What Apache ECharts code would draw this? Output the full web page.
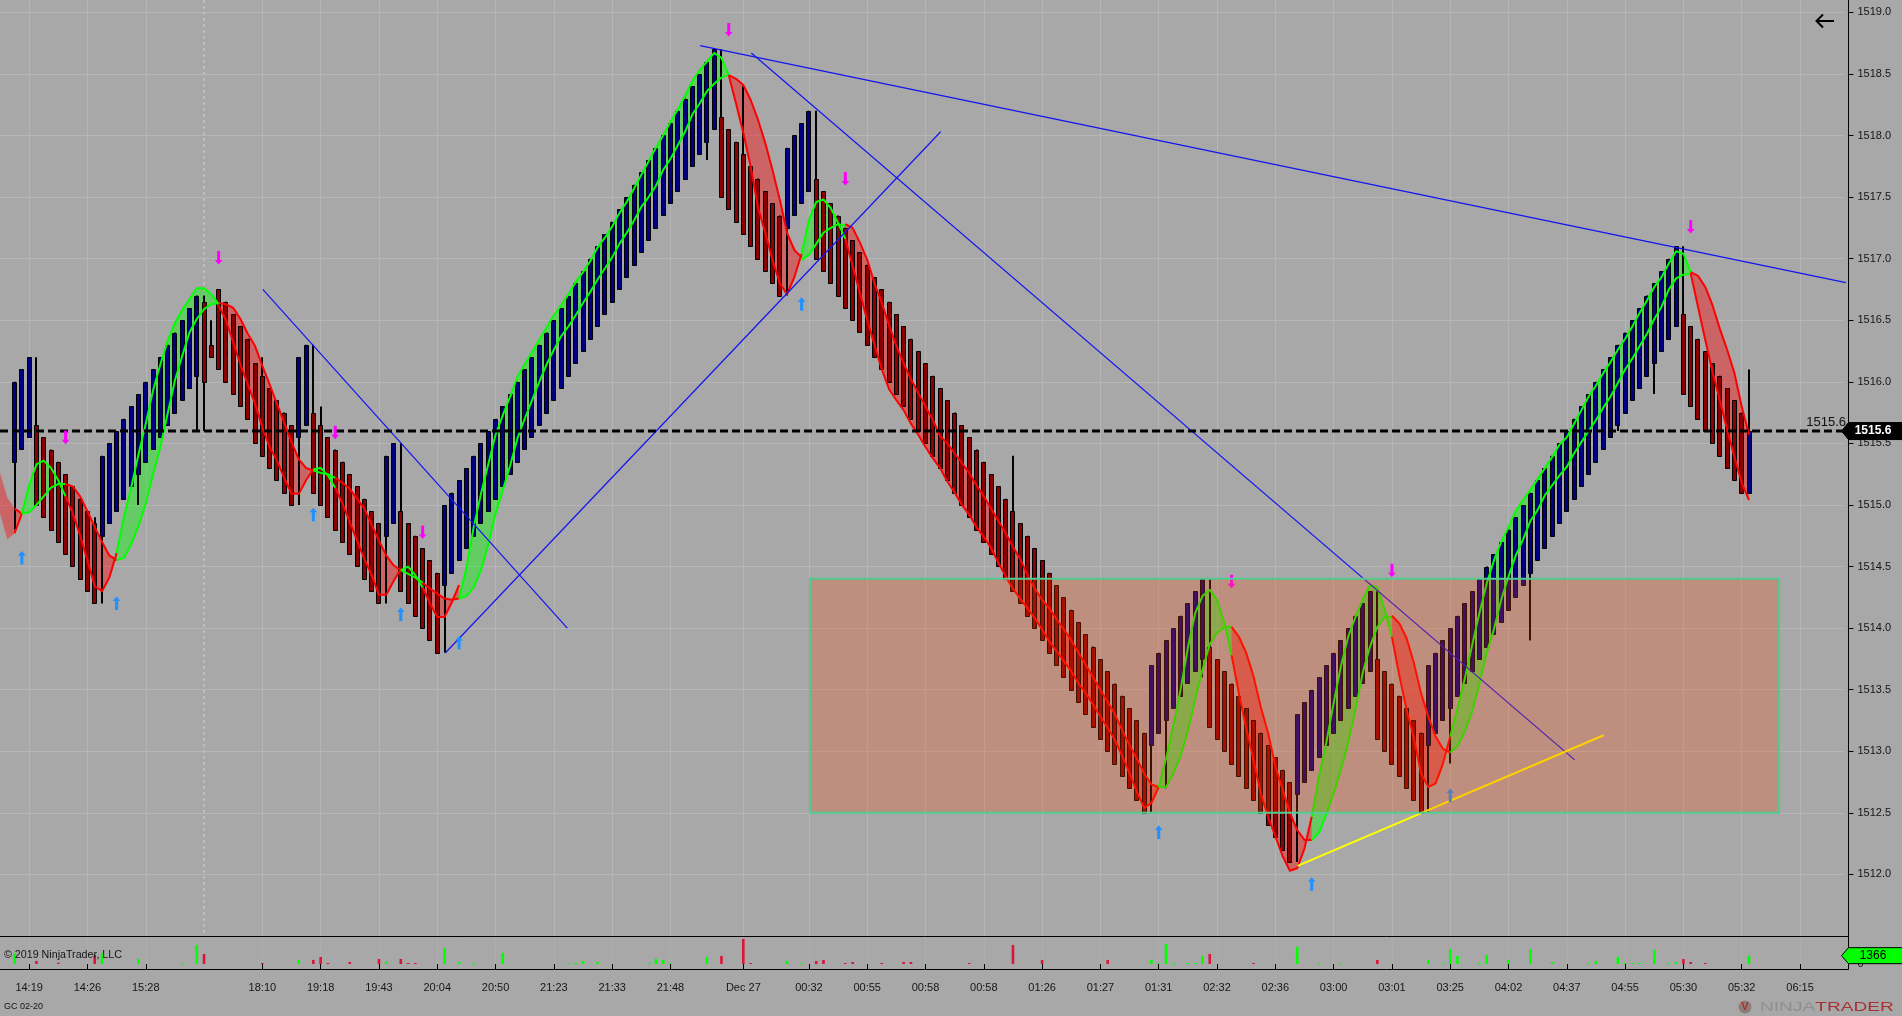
<!DOCTYPE html>
<html><head><meta charset="utf-8"><title>GC 02-20</title>
<style>html,body{margin:0;padding:0;background:#a8a8a8;overflow:hidden}#c{width:1902px;height:1016px}</style>
<script src="https://cdn.jsdelivr.net/npm/echarts@6/dist/echarts.min.js"></script></head>
<body><div id="c"></div>
<script>
const FIRST_INDEX = -4, LAST_INDEX = 249, FIRST_BAR = -2;
const tickIndex = [0,8,16,32,40,48,56,64,72,80,88,98,107,115,123,131,139,147,155,163,171,179,187,195,203,211,219,227,235,243];
const tickLabels = ['14:19','14:26','15:28','18:10','19:18','19:43','20:04','20:50','21:23','21:33','21:48','Dec 27','00:32','00:55','00:58','00:58','01:26','01:27','01:31','02:32','02:36','03:00','03:01','03:25','04:02','04:37','04:55','05:30','05:32','06:15'];
const priceTicks = [1512,1512.5,1513,1513.5,1514,1514.5,1515,1515.5,1516,1516.5,1517,1517.5,1518,1518.5,1519];
const barOpen = [1515.35,1515.45,1515.55,
1515.65,1515.55,1515.45,1515.35,1515.25,1515.15,1515.05,1514.95,1514.85,
1514.75,1514.85,1514.95,1515.05,1515.15,1515.25,1515.35,1515.45,1515.55,1515.65,1515.75,1515.85,1515.95,1516.05,
1516.65,1516.3,
1516.75,1516.65,1516.55,1516.45,1516.35,
1516.15,1516.05,1515.95,1515.85,1515.75,1515.65,
1515.55,1515.65,
1515.75,1515.65,1515.55,1515.45,1515.35,1515.25,1515.15,1515.05,1514.95,1514.85,
1514.75,1514.85,
1514.95,1514.85,1514.75,1514.65,1514.55,1514.45,
1514.35,1514.45,1514.55,1514.65,1514.75,1514.85,1514.95,1515.05,1515.15,1515.25,1515.35,1515.45,1515.55,1515.65,1515.75,1515.85,1515.95,1516.05,1516.15,1516.25,1516.35,1516.45,1516.55,1516.65,1516.75,1516.85,1516.95,1517.05,1517.15,1517.25,1517.35,1517.45,1517.55,1517.65,1517.75,1517.85,1517.95,1518.05,
1518.15,1518.05,1517.95,1517.85,1517.75,1517.65,1517.55,1517.45,1517.35,
1517.25,1517.35,1517.45,1517.55,
1517.65,1517.55,1517.45,1517.35,1517.25,1517.15,1517.05,1516.95,1516.85,1516.75,1516.65,1516.55,1516.45,1516.35,1516.25,1516.15,1516.05,1515.95,1515.85,1515.75,1515.65,1515.55,1515.45,1515.35,1515.25,1515.15,1515.05,1514.95,1514.85,1514.75,1514.65,1514.55,1514.45,1514.35,1514.25,1514.15,1514.05,1513.95,1513.85,1513.75,1513.65,1513.55,1513.45,1513.35,1513.25,1513.15,
1513.05,1513.15,1513.25,1513.35,1513.45,1513.55,1513.65,1513.75,
1513.85,1513.75,1513.65,1513.55,1513.45,1513.35,1513.25,1513.15,1513.05,1512.95,1512.85,1512.75,
1512.65,1512.75,1512.85,1512.95,1513.05,1513.15,1513.25,1513.35,1513.45,1513.55,1513.65,
1513.75,1513.65,1513.55,1513.45,1513.35,1513.25,1513.15,
1513.05,1513.15,1513.25,1513.35,1513.45,1513.55,1513.65,1513.75,1513.85,1513.95,1514.05,1514.15,1514.25,1514.35,1514.45,1514.55,1514.65,1514.75,1514.85,1514.95,1515.05,1515.15,1515.25,1515.35,1515.45,1515.55,1515.65,1515.75,1515.85,1515.95,1516.05,1516.15,1516.25,1516.35,1516.45,
1516.55,1516.45,1516.35,1516.25,1516.15,1516.05,1515.95,1515.85,1515.75,
1515.1];
const barClose = [1516.0,1516.1,1516.2,
1515.0,1514.9,1514.8,1514.7,1514.6,1514.5,1514.4,1514.3,1514.2,
1515.4,1515.5,1515.6,1515.7,1515.8,1515.9,1516.0,1516.1,1516.2,1516.3,1516.4,1516.5,1516.6,1516.7,
1516.0,1516.2,
1516.1,1516.0,1515.9,1515.8,1515.7,
1515.5,1515.4,1515.3,1515.2,1515.1,1515.0,
1516.2,1516.3,
1515.1,1515.0,1514.9,1514.8,1514.7,1514.6,1514.5,1514.4,1514.3,1514.2,
1515.4,1515.5,
1514.3,1514.2,1514.1,1514.0,1513.9,1513.8,
1515.0,1515.1,1515.2,1515.3,1515.4,1515.5,1515.6,1515.7,1515.8,1515.9,1516.0,1516.1,1516.2,1516.3,1516.4,1516.5,1516.6,1516.7,1516.8,1516.9,1517.0,1517.1,1517.2,1517.3,1517.4,1517.5,1517.6,1517.7,1517.8,1517.9,1518.0,1518.1,1518.2,1518.3,1518.4,1518.5,1518.6,1518.7,
1517.5,1517.4,1517.3,1517.2,1517.1,1517.0,1516.9,1516.8,1516.7,
1517.9,1518.0,1518.1,1518.2,
1517.0,1516.9,1516.8,1516.7,1516.6,1516.5,1516.4,1516.3,1516.2,1516.1,1516.0,1515.9,1515.8,1515.7,1515.6,1515.5,1515.4,1515.3,1515.2,1515.1,1515.0,1514.9,1514.8,1514.7,1514.6,1514.5,1514.4,1514.3,1514.2,1514.1,1514.0,1513.9,1513.8,1513.7,1513.6,1513.5,1513.4,1513.3,1513.2,1513.1,1513.0,1512.9,1512.8,1512.7,1512.6,1512.5,
1513.7,1513.8,1513.9,1514.0,1514.1,1514.2,1514.3,1514.4,
1513.2,1513.1,1513.0,1512.9,1512.8,1512.7,1512.6,1512.5,1512.4,1512.3,1512.2,1512.1,
1513.3,1513.4,1513.5,1513.6,1513.7,1513.8,1513.9,1514.0,1514.1,1514.2,1514.3,
1513.1,1513.0,1512.9,1512.8,1512.7,1512.6,1512.5,
1513.7,1513.8,1513.9,1514.0,1514.1,1514.2,1514.3,1514.4,1514.5,1514.6,1514.7,1514.8,1514.9,1515.0,1515.1,1515.2,1515.3,1515.4,1515.5,1515.6,1515.7,1515.8,1515.9,1516.0,1516.1,1516.2,1516.3,1516.4,1516.5,1516.6,1516.7,1516.8,1516.9,1517.0,1517.1,
1515.9,1515.8,1515.7,1515.6,1515.5,1515.4,1515.3,1515.2,1515.1,
1515.6];
const wickHighIndex = [1,9,24,25,32,39,40,51,95,98,108,135,162,185,227,236];
const wickHighPrice = [1516.2,1514.9,1516.7,1516.5,1516.2,1516.3,1515.8,1515.5,1518.7,1518.4,1518.2,1515.4,1514.4,1514.3,1517.1,1516.1];
const wickLowIndex = [-2,10,15,23,24,37,49,57,93,104,154,156,161,174,192,195,206,218,223];
const wickLowPrice = [1514.8,1514.2,1515.0,1515.6,1515.6,1515.0,1514.2,1513.8,1517.8,1516.7,1512.5,1512.7,1513.6,1512.1,1512.5,1512.9,1513.9,1515.6,1515.9];
const bandStart = [-4,-1,5,12,26,39,42,51,54,59,96,106,112,155,165,176,187,195,228];
const bandRising = [0,1,0,1,0,1,0,1,0,1,0,1,0,1,0,1,0,1,0];
const bandFast = [
[1515.26,1515.06,1514.97,1514.93],
[1514.93,1515.16,1515.33,1515.36,1515.30,1515.20,1515.07],
[1515.07,1514.93,1514.75,1514.55,1514.34,1514.30,1514.41,1514.61],
[1514.61,1514.90,1515.14,1515.41,1515.66,1515.93,1516.14,1516.33,1516.48,1516.58,1516.67,1516.76,1516.76,1516.71,1516.63],
[1516.62,1516.50,1516.32,1516.14,1515.98,1515.82,1515.63,1515.47,1515.36,1515.22,1515.09,1515.09,1515.20,1515.29],
[1515.29,1515.30,1515.24,1515.14],
[1515.14,1515.01,1514.86,1514.71,1514.56,1514.43,1514.27,1514.27,1514.38,1514.48],
[1514.47,1514.50,1514.43,1514.33],
[1514.33,1514.20,1514.09,1514.09,1514.21,1514.35],
[1514.24,1514.49,1514.82,1515.09,1515.33,1515.57,1515.73,1515.88,1516.04,1516.14,1516.24,1516.34,1516.44,1516.54,1516.62,1516.71,1516.81,1516.89,1516.98,1517.09,1517.17,1517.26,1517.37,1517.46,1517.57,1517.68,1517.79,1517.90,1518.00,1518.11,1518.21,1518.32,1518.44,1518.53,1518.60,1518.67,1518.63,1518.49],
[1518.49,1518.26,1518.02,1517.75,1517.42,1517.21,1516.99,1516.80,1516.71,1516.85,1517.04],
[1517.04,1517.31,1517.46,1517.48,1517.41,1517.29,1517.16],
[1517.16,1516.94,1516.72,1516.50,1516.30,1516.10,1515.94,1515.85,1515.77,1515.66,1515.57,1515.47,1515.38,1515.30,1515.19,1515.10,1515.00,1514.92,1514.82,1514.74,1514.65,1514.53,1514.42,1514.32,1514.24,1514.16,1514.08,1513.99,1513.89,1513.81,1513.73,1513.65,1513.55,1513.47,1513.38,1513.28,1513.19,1513.09,1512.96,1512.82,1512.67,1512.54,1512.58,1512.71],
[1512.71,1512.94,1513.21,1513.50,1513.84,1514.12,1514.26,1514.31,1514.23,1514.04,1513.78],
[1513.78,1513.47,1513.19,1512.93,1512.66,1512.47,1512.31,1512.15,1512.03,1512.05,1512.21,1512.47],
[1512.47,1512.80,1513.07,1513.39,1513.69,1513.93,1514.09,1514.23,1514.35,1514.33,1514.15,1513.93],
[1513.93,1513.62,1513.34,1513.11,1512.82,1512.71,1512.74,1512.90,1513.12],
[1513.12,1513.35,1513.59,1513.86,1514.12,1514.36,1514.55,1514.70,1514.82,1514.95,1515.04,1515.12,1515.21,1515.30,1515.39,1515.49,1515.55,1515.66,1515.77,1515.88,1515.97,1516.07,1516.16,1516.26,1516.35,1516.45,1516.56,1516.66,1516.77,1516.85,1516.96,1517.06,1517.04,1516.89],
[1516.88,1516.61,1516.34,1516.08,1515.85,1515.61,1515.39,1515.18,1515.04]];
const bandSlow = [
[1514.93,1514.72,1514.77,1514.93],
[1514.93,1514.94,1515.00,1515.07,1515.14,1515.17,1515.17],
[1515.17,1515.15,1515.07,1514.95,1514.82,1514.70,1514.59,1514.55],
[1514.55,1514.57,1514.68,1514.83,1515.01,1515.25,1515.47,1515.74,1516.01,1516.21,1516.40,1516.51,1516.59,1516.63,1516.64],
[1516.64,1516.63,1516.60,1516.51,1516.39,1516.29,1516.13,1515.98,1515.82,1515.67,1515.51,1515.37,1515.30,1515.28],
[1515.28,1515.26,1515.25,1515.22],
[1515.22,1515.18,1515.13,1515.05,1514.97,1514.84,1514.71,1514.59,1514.51,1514.47],
[1514.47,1514.44,1514.41,1514.37],
[1514.37,1514.32,1514.28,1514.24,1514.23,1514.24],
[1514.24,1514.26,1514.33,1514.47,1514.68,1514.93,1515.12,1515.32,1515.54,1515.70,1515.85,1516.00,1516.14,1516.26,1516.37,1516.45,1516.54,1516.64,1516.73,1516.83,1516.92,1517.01,1517.12,1517.21,1517.31,1517.42,1517.50,1517.59,1517.72,1517.81,1517.92,1518.03,1518.17,1518.26,1518.36,1518.42,1518.47,1518.49],
[1518.49,1518.46,1518.41,1518.29,1518.13,1517.94,1517.72,1517.48,1517.21,1517.07,1517.01],
[1516.99,1517.03,1517.12,1517.21,1517.25,1517.28,1517.27],
[1517.28,1517.25,1517.13,1516.99,1516.80,1516.64,1516.46,1516.29,1516.15,1516.02,1515.91,1515.80,1515.69,1515.56,1515.50,1515.42,1515.34,1515.26,1515.16,1515.07,1514.97,1514.87,1514.77,1514.66,1514.56,1514.43,1514.32,1514.23,1514.16,1514.07,1513.99,1513.90,1513.80,1513.70,1513.60,1513.50,1513.40,1513.30,1513.17,1513.05,1512.94,1512.82,1512.73,1512.71],
[1512.71,1512.71,1512.82,1512.96,1513.17,1513.42,1513.66,1513.87,1513.96,1514.01,1514.01],
[1514.01,1513.93,1513.80,1513.61,1513.36,1513.15,1512.88,1512.69,1512.50,1512.36,1512.28,1512.28],
[1512.28,1512.34,1512.49,1512.66,1512.85,1513.07,1513.34,1513.64,1513.85,1514.01,1514.09,1514.09],
[1514.10,1514.04,1513.92,1513.72,1513.47,1513.28,1513.12,1513.02,1512.99],
[1512.99,1513.04,1513.16,1513.32,1513.55,1513.80,1513.99,1514.23,1514.42,1514.59,1514.72,1514.87,1514.96,1515.08,1515.16,1515.24,1515.31,1515.42,1515.51,1515.60,1515.69,1515.79,1515.88,1515.99,1516.10,1516.19,1516.29,1516.39,1516.51,1516.61,1516.75,1516.84,1516.87,1516.88],
[1516.89,1516.86,1516.77,1516.62,1516.43,1516.26,1516.07,1515.80,1515.57]];
const upArrowIndex = [-1,12,39,51,59,106,155,176,195];
const upArrowPrice = [1514.57,1514.20,1514.92,1514.11,1513.88,1516.63,1512.34,1511.92,1512.64];
const downArrowIndex = [5,26,42,54,96,112,165,187,228];
const downArrowPrice = [1515.55,1517.01,1515.59,1514.78,1518.86,1517.65,1514.38,1514.47,1517.26];
const trendFromIndex = [92.07,99.1,32.06,57.13];
const trendFromPrice = [1518.73,1518.67,1516.75,1513.8];
const trendToIndex = [249.3,212.08,73.85,125.08];
const trendToPrice = [1516.805,1512.93,1514.0,1518.03];
const yellowIndex = [174.05,216.06];
const yellowPrice = [1512.07,1513.13];
const zoneIndex = [107.14,240.13];
const zonePrice = [1514.4,1512.5];
const lastPrice = 1515.6;
const lastVolume = 1366;
const dateLineIndex = [24];
const volUpIndex = [-2,10,15,21,23,37,49,57,59,61,65,74,75,76,78,85,86,87,88,93,104,106,154,155,156,157,159,160,161,174,177,180,192,194,195,196,199,200,203,206,209,214,215,218,219,220,221,223,225,226,236];
const volUpValue = [1760,1760,825,165,3135,660,380,2640,330,165,1815,165,165,495,330,165,825,660,165,1155,495,165,660,165,3300,165,165,165,1320,2805,165,165,660,165,2475,1320,165,1485,660,2475,330,165,495,1155,165,165,165,2310,165,330,1366];
const volDownIndex = [1,4,9,24,32,39,40,41,44,48,51,52,53,95,98,99,108,109,112,113,117,120,121,129,135,139,148,162,168,185,227,228,230];
const volDownValue = [495,215,1485,1650,165,660,1155,165,330,825,825,165,165,1320,4125,165,495,660,165,330,165,330,330,165,3135,660,660,1650,165,660,825,330,165];

const categories = [];
for (let i = FIRST_INDEX; i <= LAST_INDEX; i++) { const t = tickIndex.indexOf(i); categories.push(t >= 0 ? tickLabels[t] : ''); }
const volumeData = categories.map(() => null);
volUpIndex.forEach((x, n) => { volumeData[x - FIRST_INDEX] = {value: volUpValue[n], itemStyle: {color: '#00ff00'}}; });
volDownIndex.forEach((x, n) => { volumeData[x - FIRST_INDEX] = {value: volDownValue[n], itemStyle: {color: '#dc143c'}}; });

const X0 = -2.9, SLOT = 7.299, AXIS_X = 1848.5;
const pxIn = api => (i, p) => {
  const a = Math.floor(i), k = a - FIRST_INDEX;
  const c0 = api.coord([k, p]), c1 = api.coord([k + 1, p]);
  return [c0[0] + (c1[0] - c0[0]) * (i - a), c0[1]];
};
function layer(count, z, render, axisIndex) {
  const ax = axisIndex || 0;
  return {type: 'custom', xAxisIndex: ax, yAxisIndex: ax, z, silent: true, animation: false, clip: false,
    encode: {x: 0, y: 1}, data: Array.from({length: count}, () => [0, ax ? 0 : 1515]), renderItem: (params, api) => render(params.dataIndex, pxIn(api), api)};
}
const bandPoints = (n, at) => {
  const f = bandFast[n].map((p, j) => at(bandStart[n] + j, p));
  const s = bandSlow[n].map((p, j) => at(bandStart[n] + j, p));
  return [f, s];
};
const bandFill = layer(bandStart.length, 1, (n, at) => {
  const [f, s] = bandPoints(n, at);
  return {type: 'polygon', shape: {points: f.concat(s.slice().reverse())}, style: {fill: bandRising[n] ? 'rgba(0,255,0,0.4)' : 'rgba(255,0,0,0.4)', stroke: null}};
});
const candles = layer(barClose.length, 2, (n, at) => {
  const i = FIRST_BAR + n, o = barOpen[n], c = barClose[n];
  const hN = wickHighIndex.indexOf(i), lN = wickLowIndex.indexOf(i);
  const top = Math.max(o, c), bot = Math.min(o, c);
  const hi = hN >= 0 ? wickHighPrice[hN] : top, lo = lN >= 0 ? wickLowPrice[lN] : bot;
  const a = at(i, top), b = at(i, bot), h = at(i, hi), l = at(i, lo);
  const x = Math.round(a[0] - 2.5) + 0.5;
  return {type: 'group', children: [
    {type: 'rect', shape: {x: Math.round(a[0] - 1), y: h[1], width: 2, height: l[1] - h[1]}, style: {fill: '#000'}},
    {type: 'rect', shape: {x, y: Math.round(a[1]) + 0.5, width: 4, height: Math.round(b[1] - a[1])}, style: {fill: c >= o ? '#000080' : '#8b0000', stroke: '#000', lineWidth: 1}}
  ]};
});
const bandLines = layer(bandStart.length, 3, (n, at) => {
  const [f, s] = bandPoints(n, at), skip = n === 0 ? 2 : 0;
  const style = {stroke: bandRising[n] ? '#00ff00' : '#ff0000', lineWidth: 2, fill: null, lineJoin: 'round'};
  return {type: 'group', children: [
    {type: 'polyline', shape: {points: f.slice(skip)}, style},
    {type: 'polyline', shape: {points: s.slice(skip)}, style}
  ]};
});
const dateLines = layer(dateLineIndex.length, 0.5, (n, at) => {
  const a = at(dateLineIndex[n], 1519.1), b = at(dateLineIndex[n], 1511.5);
  return {type: 'line', shape: {x1: a[0], y1: a[1], x2: b[0], y2: b[1]}, style: {stroke: '#d0d0d0', lineWidth: 1, lineDash: [3, 3]}};
});
const trends = layer(trendFromIndex.length, 4, (n, at) => {
  const a = at(trendFromIndex[n], trendFromPrice[n]), b = at(trendToIndex[n], trendToPrice[n]);
  return {type: 'line', shape: {x1: a[0], y1: a[1], x2: b[0], y2: b[1]}, style: {stroke: '#1414f0', lineWidth: 1.2}};
});
const yellow = layer(1, 4, (n, at) => {
  const a = at(yellowIndex[0], yellowPrice[0]), b = at(yellowIndex[1], yellowPrice[1]);
  return {type: 'line', shape: {x1: a[0], y1: a[1], x2: b[0], y2: b[1]}, style: {stroke: '#ffff00', lineWidth: 2}};
});
const priceLine = layer(1, 5, (n, at) => {
  const a = at(FIRST_INDEX, lastPrice), b = at(249.2, lastPrice);
  return {type: 'line', shape: {x1: a[0], y1: a[1], x2: b[0], y2: b[1]}, style: {stroke: '#000', lineWidth: 3, lineDash: [8, 4]}};
});
const arrow = (x, y, up, color) => {
  const s = up ? 1 : -1;
  return {type: 'group', children: [
    {type: 'rect', shape: {x: x - 1.5, y: Math.min(y - 3 * s, y + 6.5 * s), width: 3, height: 9.5}, style: {fill: color}},
    {type: 'polygon', shape: {points: [[x, y - 7 * s], [x - 3.8, y - 2.5 * s], [x + 3.8, y - 2.5 * s]]}, style: {fill: color}}
  ]};
};
const upArrows = layer(upArrowIndex.length, 5, (n, at) => { const p = at(upArrowIndex[n], upArrowPrice[n]); return arrow(p[0], p[1], true, '#1e90ff'); });
const downArrows = layer(downArrowIndex.length, 5, (n, at) => { const p = at(downArrowIndex[n], downArrowPrice[n]); return arrow(p[0], p[1], false, '#ff00ff'); });
const zone = layer(1, 6, (n, at) => {
  const a = at(zoneIndex[0], zonePrice[0]), b = at(zoneIndex[1], zonePrice[1]);
  return {type: 'rect', shape: {x: a[0], y: a[1], width: b[0] - a[0], height: b[1] - a[1]}, style: {fill: 'rgba(255,69,0,0.25)', stroke: '#50cc90', lineWidth: 2}};
});
const tag = (y, h, fill, color, text, weight) => ({type: 'group', children: [
  {type: 'polygon', shape: {points: [[1841.5, y], [1848.5, y - h], [1903, y - h], [1903, y + h], [1848.5, y + h]]}, style: {fill, stroke: '#000', lineWidth: 1}},
  {type: 'text', style: {x: 1873, y, text, fill: color, font: weight + ' 12px "Liberation Sans"', align: 'center', verticalAlign: 'middle'}}
]});
const priceTag = layer(1, 12, (n, at) => {
  const y = at(0, lastPrice)[1];
  return {type: 'group', children: [
    tag(y, 8.5, '#000', '#fff', lastPrice.toFixed(1), 'bold'),
    {type: 'text', style: {x: 1846, y: y - 8.5, text: lastPrice.toFixed(1), fill: '#111', font: '13px "Liberation Sans"', align: 'right', verticalAlign: 'middle'}}
  ]};
});
const volumeTag = layer(1, 12, (n, at) => tag(at(0, lastVolume)[1], 8, '#00ff00', '#000', String(lastVolume), 'normal'), 1);

const tickOnly = (k, v) => v !== '';
const labelFont = {fontFamily: '"Liberation Sans"', fontSize: 11, color: '#161616'};
const chart = echarts.init(document.getElementById('c'), null, {renderer: 'canvas'});
const plotWidth = SLOT * (LAST_INDEX - FIRST_INDEX);
chart.setOption({
  animation: false, backgroundColor: '#a8a8a8',
  grid: [
    {left: X0, top: 0, width: plotWidth, height: 936},
    {left: X0, top: 936, width: plotWidth, height: 33.3}
  ],
  xAxis: [
    {type: 'category', gridIndex: 0, data: categories, boundaryGap: false, axisLine: {show: false}, axisTick: {show: false}, axisLabel: {show: false},
     splitLine: {show: true, interval: tickOnly, lineStyle: {color: '#b6b6b6', width: 1}}},
    {type: 'category', gridIndex: 1, data: categories, boundaryGap: false, axisLine: {show: false},
     axisTick: {show: true, interval: tickOnly, length: 5.5, lineStyle: {color: '#000', width: 1}},
     axisLabel: Object.assign({show: true, interval: tickOnly, margin: 13, hideOverlap: false}, labelFont),
     splitLine: {show: true, interval: tickOnly, lineStyle: {color: '#adadad', width: 1}}}
  ],
  yAxis: [
    {type: 'value', gridIndex: 0, position: 'right', offset: 4.75, min: 1511.5, max: 1519.1, scale: true,
     axisLine: {show: true, onZero: false, lineStyle: {color: '#000', width: 1}},
     axisTick: {show: true, length: 5, customValues: priceTicks, lineStyle: {color: '#000'}},
     axisLabel: Object.assign({show: true, margin: 9, customValues: priceTicks, formatter: v => v.toFixed(1)}, labelFont),
     splitLine: {show: true, lineStyle: {color: '#b6b6b6', width: 1}}},
    {type: 'value', gridIndex: 1, position: 'right', offset: 4.75, min: -875, max: 4600,
     axisLine: {show: true, onZero: false, lineStyle: {color: '#000', width: 1}},
     axisTick: {show: false, customValues: [0]},
     axisLabel: Object.assign({show: true, margin: 9, customValues: [0], formatter: v => String(v)}, labelFont),
     splitLine: {show: false}}
  ],
  series: [
    dateLines, bandFill, candles, bandLines, trends, yellow, priceLine, upArrows, downArrows, zone, priceTag, volumeTag,
    {type: 'bar', xAxisIndex: 1, yAxisIndex: 1, data: volumeData, barWidth: 2.6, silent: true, animation: false, z: 3}
  ],
  graphic: [
    {type: 'line', z: 20, silent: true, shape: {x1: 0, y1: 936.5, x2: AXIS_X, y2: 936.5}, style: {stroke: '#000', lineWidth: 1}},
    {type: 'line', z: 20, silent: true, shape: {x1: 0, y1: 969.5, x2: AXIS_X, y2: 969.5}, style: {stroke: '#000', lineWidth: 1}},
    {type: 'polyline', z: 20, silent: true, shape: {points: [[1823, 14.5], [1816.5, 21], [1823, 27.5]]}, style: {stroke: '#000', lineWidth: 2, fill: null}},
    {type: 'line', z: 20, silent: true, shape: {x1: 1816.5, y1: 21, x2: 1834, y2: 21}, style: {stroke: '#000', lineWidth: 2}},
    {type: 'text', z: 20, silent: true, x: 4, y: 955, style: {text: '\u00a9 2019 NinjaTrader, LLC', font: '10.7px "Liberation Sans"', fill: '#141414', verticalAlign: 'middle'}},
    {type: 'text', z: 20, silent: true, x: 4, y: 1006.5, style: {text: 'GC 02-20', font: '9px "Liberation Sans"', fill: '#141414', verticalAlign: 'middle'}},
    {type: 'circle', z: 20, silent: true, shape: {cx: 1745, cy: 1007, r: 6.5}, style: {fill: '#8d7f78', stroke: null}},
    {type: 'text', z: 21, silent: true, x: 1745, y: 1007, style: {text: 'V', font: 'bold 11px "Liberation Sans"', fill: '#a83232', align: 'center', verticalAlign: 'middle'}},
    {type: 'text', z: 20, silent: true, x: 1760, y: 1007, scaleX: 1.47, style: {
      text: '{a|NINJA}{b|TRADER}', verticalAlign: 'middle',
      rich: {a: {font: '13px "Liberation Sans"', fill: '#8f8f8f'}, b: {font: '13px "Liberation Sans"', fill: '#a83232'}}}}
  ]
});
</script></body></html>
